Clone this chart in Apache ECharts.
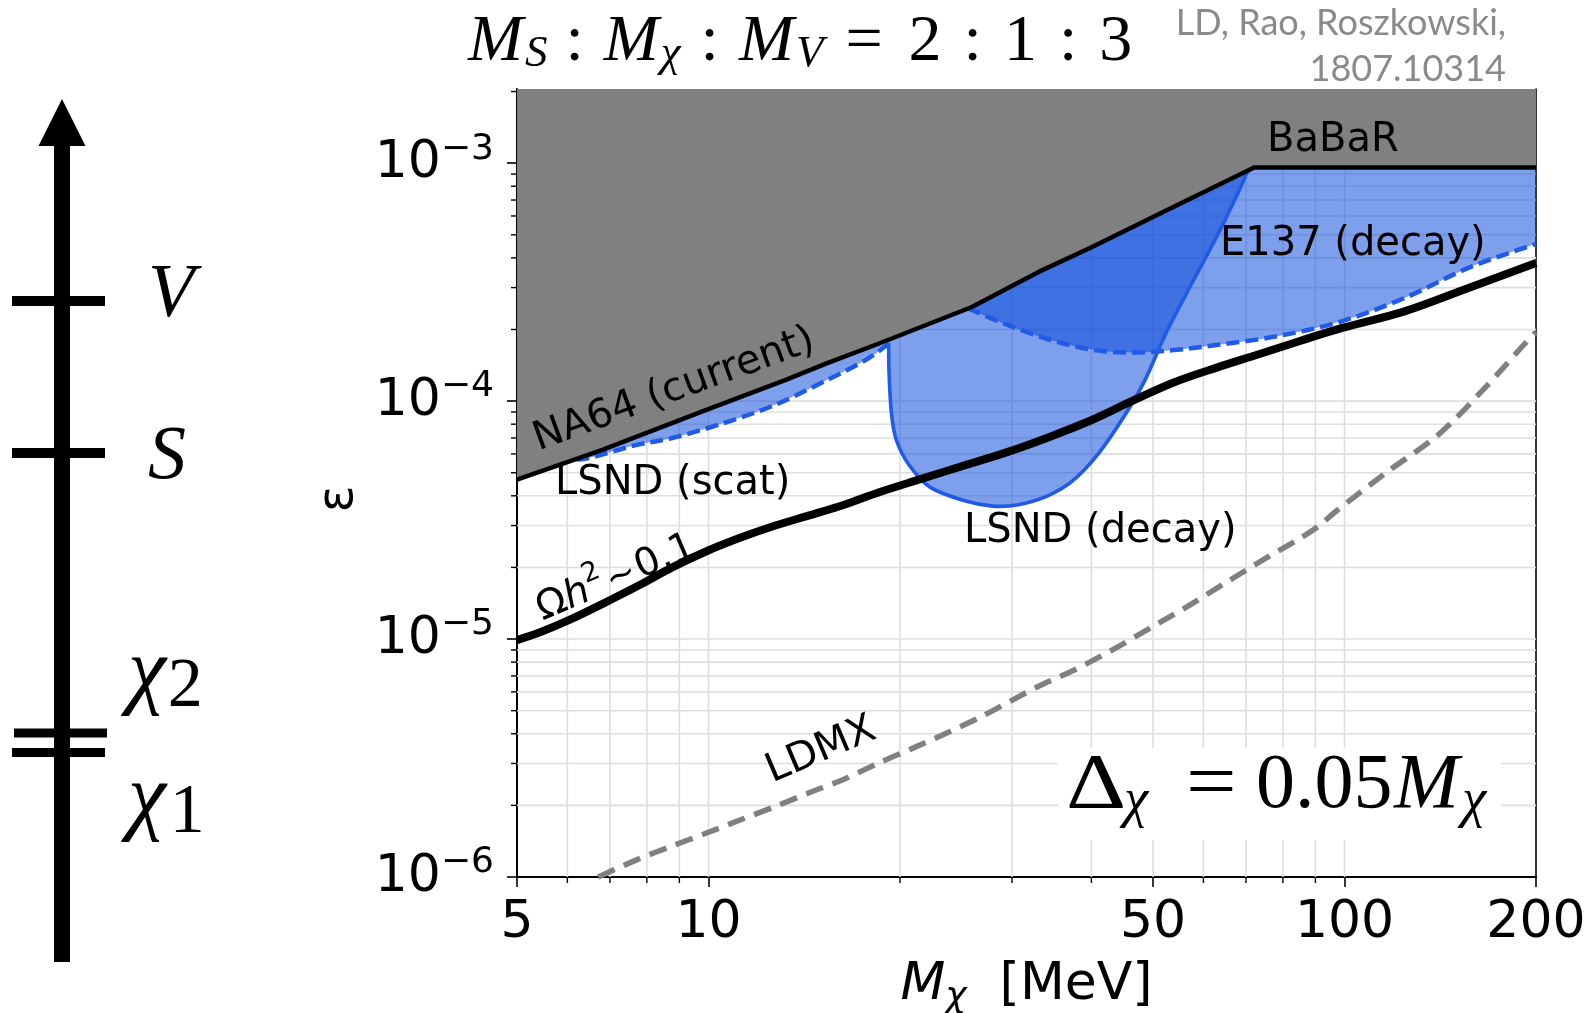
<!DOCTYPE html>
<html>
<head>
<meta charset="utf-8">
<script src="https://cdn.jsdelivr.net/npm/echarts@6/dist/echarts.min.js"></script>
<style>
  html, body { margin: 0; padding: 0; background: #ffffff; }
  #chart { width: 1588px; height: 1013px; }
</style>
</head>
<body>
<div id="chart"></div>
<script>
// ---- axis ranges and ticks ----
const X_MIN = 5, X_MAX = 200;
const Y_MIN = 1e-6, Y_MAX = 2.05e-3;
const X_TICKS = [5, 10, 50, 100, 200];
const Y_TICKS = [1e-6, 1e-5, 1e-4, 1e-3];
const X_MINOR = [6, 7, 8, 9, 20, 30, 40, 60, 70, 80, 90];
const Y_MINOR = [2e-6, 3e-6, 4e-6, 5e-6, 6e-6, 7e-6, 8e-6, 9e-6,
                 2e-5, 3e-5, 4e-5, 5e-5, 6e-5, 7e-5, 8e-5, 9e-5,
                 2e-4, 3e-4, 4e-4, 5e-4, 6e-4, 7e-4, 8e-4, 9e-4, 2e-3];
const X_GRID = [6, 7, 8, 9, 10, 20, 30, 40, 50, 60, 70, 80, 90, 100];
const Y_GRID = [1e-5, 1e-4, 1e-3].concat(Y_MINOR);

// ---- curves: [M_chi (MeV), epsilon] ----
const NA64_BABAR = [[5, 4.68e-5], [6.81, 6.24e-5], [8.74, 8.07e-5], [9.9, 9.17e-5], [13.2, 1.225e-4],
  [15.3, 1.437e-4], [18.5, 1.742e-4], [20.9, 1.98e-4], [25.9, 2.48e-4], [33.1, 3.5e-4],
  [39.8, 4.4e-4], [54, 6.58e-4], [72.1, 9.6e-4], [200, 9.6e-4]];
const LSND_SCAT = [[6.2, 5.7e-5], [6.48, 5.76e-5], [7.72, 6.55e-5], [8.74, 6.98e-5], [10.55, 8.07e-5],
  [12.7, 9.62e-5], [15.3, 1.22e-4], [17.6, 1.48e-4], [19.2, 1.74e-4]];
const LSND_DECAY = [[19.2, 1.76e-4], [19.23, 1.30e-4], [19.4, 8.82e-5], [19.75, 6.83e-5], [20.7, 5.36e-5],
  [22.3, 4.35e-5], [25.2, 3.82e-5], [28.0, 3.62e-5], [30.7, 3.67e-5], [34.2, 4.01e-5], [37.4, 4.63e-5],
  [41.0, 6.0e-5], [44.9, 8.53e-5], [48.5, 1.216e-4], [52.3, 1.91e-4], [57.4, 3.09e-4], [62.8, 4.85e-4],
  [67.8, 7.37e-4], [70.4, 9.23e-4], [71.2, 9.6e-4]];
const E137_DECAY = [[25.6, 2.45e-4], [29.4, 2.10e-4], [34.2, 1.82e-4], [39.8, 1.65e-4], [46.3, 1.60e-4],
  [54.0, 1.64e-4], [62.8, 1.72e-4], [78.9, 1.88e-4], [99.2, 2.17e-4], [124.6, 2.72e-4],
  [156.6, 3.63e-4], [200, 4.58e-4]];
const RELIC = [[5, 9.9e-6], [5.46, 1.073e-5], [6.03, 1.2e-5], [6.83, 1.41e-5], [7.74, 1.67e-5],
  [8.77, 2.0e-5], [9.93, 2.34e-5], [11.24, 2.67e-5], [12.74, 3.0e-5], [14.4, 3.31e-5],
  [16.3, 3.66e-5], [18.6, 4.15e-5], [21.6, 4.71e-5], [25.2, 5.36e-5], [29.4, 6.09e-5],
  [34.2, 7.04e-5], [39.8, 8.27e-5], [46.3, 1.0e-4], [54.0, 1.2e-4], [62.8, 1.38e-4],
  [73.1, 1.57e-4], [85.1, 1.79e-4], [99.2, 2.03e-4], [124.6, 2.39e-4], [156.6, 2.99e-4], [200, 3.81e-4]];
const LDMX = [[6.71, 1e-6], [7.74, 1.186e-6], [8.77, 1.35e-6], [9.93, 1.53e-6], [11.24, 1.74e-6],
  [12.74, 1.98e-6], [14.4, 2.26e-6], [16.3, 2.57e-6], [18.5, 3.01e-6], [20.96, 3.48e-6],
  [23.7, 4.03e-6], [26.9, 4.73e-6], [32.9, 6.3e-6], [37.6, 7.41e-6], [43.1, 8.99e-6],
  [49.4, 1.109e-5], [56.5, 1.366e-5], [64.7, 1.71e-5], [74.2, 2.14e-5], [84.9, 2.64e-5],
  [90.5, 2.95e-5], [97.3, 3.47e-5], [115.5, 4.94e-5], [140.8, 7.27e-5], [166.4, 1.14e-4],
  [193.8, 1.79e-4], [200, 1.95e-4]];

// ---- styles ----
const GRID_COLOR = '#dedede';
const BLUE_FILL = 'rgba(7,71,218,0.52)';
const BLUE_EDGE = '#1f5be6';
const GREY = '#808080';
const SANS = 'DejaVu Sans';
const SERIF = 'Liberation Serif';

// smooth SVG path (Catmull-Rom as cubic Bezier) through pixel points
function smoothPath(px) {
  let d = 'M' + px[0][0] + ' ' + px[0][1];
  for (let i = 0; i < px.length - 1; i++) {
    const p0 = px[Math.max(i - 1, 0)], p1 = px[i], p2 = px[i + 1], p3 = px[Math.min(i + 2, px.length - 1)];
    const c1 = [p1[0] + (p2[0] - p0[0]) / 6, p1[1] + (p2[1] - p0[1]) / 6];
    const c2 = [p2[0] - (p3[0] - p1[0]) / 6, p2[1] - (p3[1] - p1[1]) / 6];
    d += ' C' + c1[0] + ' ' + c1[1] + ' ' + c2[0] + ' ' + c2[1] + ' ' + p2[0] + ' ' + p2[1];
  }
  return d;
}

// filled band from a curve up to the top of the plot
function bandSeries(name, pts, fill, z) {
  return {
    type: 'custom', name: name, silent: true, z: z, animation: false,
    data: [pts[0]],
    renderItem: function (params, api) {
      const px = pts.map(function (p) { return api.coord(p); });
      const tr = api.coord([pts[pts.length - 1][0], Y_MAX]), tl = api.coord([pts[0][0], Y_MAX]);
      const d = smoothPath(px) + ' L' + tr[0] + ' ' + tr[1] + ' L' + tl[0] + ' ' + tl[1] + ' Z';
      return { type: 'path', shape: { pathData: d }, style: { fill: fill, stroke: null } };
    }
  };
}

// smooth edge of a band, solid or dashed
function edgeSeries(name, pts, color, width, dash, z) {
  return {
    type: 'custom', name: name, silent: true, z: z, animation: false,
    data: [pts[0]],
    renderItem: function (params, api) {
      const px = pts.map(function (p) { return api.coord(p); });
      return { type: 'path', shape: { pathData: smoothPath(px) },
               style: { fill: null, stroke: color, lineWidth: width, lineDash: dash || null, lineCap: 'butt', lineJoin: 'round' } };
    }
  };
}

function polygonSeries(name, pts, fill, z) {
  return {
    type: 'custom', name: name, silent: true, z: z, animation: false,
    data: [pts[0]],
    renderItem: function (params, api) {
      const px = pts.map(function (p) { return api.coord(p); });
      px.push(api.coord([pts[pts.length - 1][0], Y_MAX]), api.coord([pts[0][0], Y_MAX]));
      return { type: 'polygon', shape: { points: px }, style: { fill: fill } };
    }
  };
}

function lineSeries(name, pts, color, width, dash, z, smooth) {
  return {
    type: 'line', name: name, data: pts, silent: true, z: z, animation: false,
    symbol: 'none', showSymbol: false, smooth: smooth || false,
    lineStyle: { color: color, width: width, type: dash || 'solid', cap: 'butt', join: 'round' }
  };
}

function gridSeries(values, vertical) {
  return {
    type: 'custom', silent: true, z: 1, animation: false,
    data: values.map(function (v) { return vertical ? [v, Y_MIN] : [X_MIN, v]; }),
    renderItem: function (params, api) {
      let a, b;
      if (vertical) { const x = api.value(0); a = api.coord([x, Y_MIN]); b = api.coord([x, Y_MAX]); }
      else { const y = api.value(1); a = api.coord([X_MIN, y]); b = api.coord([X_MAX, y]); }
      return { type: 'line', shape: { x1: a[0], y1: a[1], x2: b[0], y2: b[1] },
               style: { stroke: GRID_COLOR, lineWidth: 1.6 } };
    }
  };
}

function minorTickSeries(values, vertical) {
  return {
    type: 'custom', silent: true, z: 6, animation: false, clip: false,
    data: values.map(function (v) { return vertical ? [v, Y_MIN] : [X_MIN, v]; }),
    renderItem: function (params, api) {
      const p = vertical ? api.coord([api.value(0), Y_MIN]) : api.coord([X_MIN, api.value(1)]);
      const shape = vertical ? { x1: p[0], y1: p[1], x2: p[0], y2: p[1] + 6 }
                             : { x1: p[0] - 6, y1: p[1], x2: p[0], y2: p[1] };
      return { type: 'line', shape: shape, style: { stroke: '#000', lineWidth: 1.4 } };
    }
  };
}

// lays out a formula from pieces sharing one baseline;
// a piece may carry its own left position (at) and horizontal stretch (sx)
const measureCtx = document.createElement('canvas').getContext('2d');
function mathPieces(pieces, x0, baseline) {
  let x = x0;
  const out = [];
  pieces.forEach(function (p) {
    const style = p.italic ? 'italic' : 'normal';
    measureCtx.font = style + ' normal ' + p.size + 'px "' + p.family + '"';
    const sx = p.sx || 1;
    const w = measureCtx.measureText(p.text).width * sx;
    if (p.at !== undefined) x = p.at;
    out.push({
      type: 'text', x: x, y: baseline + (p.dy || 0) - 0.3 * p.size, scaleX: sx, silent: true, z: 100,
      style: { text: p.text, fontSize: p.size, fontFamily: p.family, fontStyle: style,
               fill: p.color || '#000', align: 'left', verticalAlign: 'middle',
               textAlign: 'left', textVerticalAlign: 'middle' }
    });
    x += w + (p.gap || 0);
  });
  return out;
}

function label(text, x, y, deg, size) {
  return {
    type: 'group', x: x, y: y, rotation: (deg || 0) * Math.PI / 180, silent: true, z: 100,
    children: [{ type: 'text', x: 0, y: -0.3 * (size || 40), z: 100,
      style: { text: text, fontSize: size || 40, fontFamily: SANS, fill: '#000',
               align: 'left', verticalAlign: 'middle', textAlign: 'left', textVerticalAlign: 'middle' } }]
  };
}

const title = mathPieces([
  { text: 'M', size: 66, family: SERIF, italic: true, gap: 2 },
  { text: 'S', size: 45, family: SERIF, italic: true, dy: 6, gap: 18 },
  { text: ':', size: 66, family: SERIF, gap: 20 },
  { text: 'M', size: 66, family: SERIF, italic: true, gap: 2 },
  { text: 'χ', size: 45, family: SERIF, italic: true, dy: 6, gap: 20 },
  { text: ':', size: 66, family: SERIF, gap: 20 },
  { text: 'M', size: 66, family: SERIF, italic: true, gap: 2 },
  { text: 'V', size: 45, family: SERIF, italic: true, dy: 6, gap: 22 },
  { text: '=', size: 66, family: SERIF, gap: 26 },
  { text: '2', size: 66, family: SERIF, gap: 22 },
  { text: ':', size: 66, family: SERIF, gap: 22 },
  { text: '1', size: 66, family: SERIF, gap: 22 },
  { text: ':', size: 66, family: SERIF, gap: 22 },
  { text: '3', size: 66, family: SERIF }
], 468, 62);

const splitting = mathPieces([
  { text: 'Δ', size: 78, family: SERIF, at: 1066, sx: 1.2 },
  { text: 'χ', size: 55, family: SERIF, italic: true, dy: 8, at: 1124 },
  { text: '=', size: 78, family: SERIF, at: 1186, sx: 1.15 },
  { text: '0.05', size: 78, family: SERIF, at: 1256 },
  { text: 'M', size: 78, family: SERIF, italic: true, at: 1394 },
  { text: 'χ', size: 55, family: SERIF, italic: true, dy: 8, at: 1462 }
], 1066, 810);

const relicLabel = {
  type: 'group', x: 543, y: 622, rotation: 23 * Math.PI / 180, silent: true, z: 100,
  children: mathPieces([
    { text: 'Ω', size: 39, family: SANS },
    { text: 'h', size: 39, family: SANS, italic: true },
    { text: '2', size: 27, family: SANS, dy: -18, gap: 3 },
    { text: '∼', size: 36, family: SANS, gap: 2 },
    { text: '0.1', size: 39, family: SANS }
  ], 0, 0)
};

const levelLabels = [].concat(
  mathPieces([{ text: 'V', size: 76, family: SERIF, italic: true }], 148, 319),
  mathPieces([{ text: 'S', size: 76, family: SERIF, italic: true }], 148, 481),
  mathPieces([{ text: 'χ', size: 86, family: SERIF, italic: true, gap: 2 },
              { text: '2', size: 70, family: SERIF, dy: 9 }], 128, 700),
  mathPieces([{ text: 'χ', size: 86, family: SERIF, italic: true, gap: 4 },
              { text: '1', size: 70, family: SERIF, dy: 9 }], 128, 826)
);

const diagram = [
  { type: 'rect', shape: { x: 54, y: 140, width: 16, height: 822 }, style: { fill: '#000' }, silent: true, z: 100 },
  { type: 'polygon', shape: { points: [[62, 99], [38.5, 146], [85.5, 146]] }, style: { fill: '#000' }, silent: true, z: 100 },
  { type: 'rect', shape: { x: 12, y: 296, width: 93, height: 10 }, style: { fill: '#000' }, silent: true, z: 100 },
  { type: 'rect', shape: { x: 12, y: 448, width: 93, height: 10 }, style: { fill: '#000' }, silent: true, z: 100 },
  { type: 'rect', shape: { x: 14, y: 728.5, width: 93, height: 9 }, style: { fill: '#000' }, silent: true, z: 100 },
  { type: 'rect', shape: { x: 12, y: 748, width: 93, height: 9 }, style: { fill: '#000' }, silent: true, z: 100 }
];

const credit = [
  { type: 'text', x: 1506, y: 23, silent: true, z: 100,
    style: { text: 'LD, Rao, Roszkowski,', fontSize: 36, fontFamily: 'Lato', fill: '#8a8a8a',
             align: 'right', verticalAlign: 'middle', textAlign: 'right', textVerticalAlign: 'middle' } },
  { type: 'text', x: 1506, y: 69, silent: true, z: 100,
    style: { text: '1807.10314', fontSize: 36, fontFamily: 'Lato', fill: '#8a8a8a',
             align: 'right', verticalAlign: 'middle', textAlign: 'right', textVerticalAlign: 'middle' } }
];

const splittingBox = { type: 'rect', shape: { x: 1058, y: 748, width: 443, height: 92 },
                       style: { fill: '#ffffff' }, silent: true, z: 99 };

const chart = echarts.init(document.getElementById('chart'), null, { renderer: 'canvas' });

chart.setOption({
  animation: false,
  backgroundColor: '#ffffff',
  grid: { left: 517, right: 52, top: 89, bottom: 136, containLabel: false, outerBoundsMode: 'none' },
  xAxis: {
    type: 'log', logBase: 10, min: X_MIN, max: X_MAX,
    axisLine: { show: true, onZero: false, lineStyle: { color: '#000', width: 2 } },
    axisTick: { show: true, length: 10, customValues: X_TICKS, lineStyle: { color: '#000', width: 1.6 } },
    axisLabel: { customValues: X_TICKS, formatter: function (v) { return String(Math.round(v)); },
                 fontSize: 52, fontFamily: SANS, color: '#000', margin: 20 },
    splitLine: { show: false },
    name: '{m|M}{s|χ}{n|  [MeV]}', nameLocation: 'middle', nameGap: 77,
    nameTextStyle: { fontSize: 52, fontFamily: SANS, color: '#000',
      rich: { m: { fontSize: 52, fontFamily: SANS, fontStyle: 'italic', verticalAlign: 'middle' },
              s: { fontSize: 36, fontFamily: SANS, fontStyle: 'italic', padding: [26, 0, 0, 0], verticalAlign: 'middle' },
              n: { fontSize: 52, fontFamily: SANS, verticalAlign: 'middle' } } }
  },
  yAxis: [{
    type: 'log', logBase: 10, min: Y_MIN, max: Y_MAX,
    axisLine: { show: true, onZero: false, lineStyle: { color: '#000', width: 2 } },
    axisTick: { show: true, length: 10, customValues: Y_TICKS, lineStyle: { color: '#000', width: 1.6 } },
    axisLabel: {
      customValues: Y_TICKS, margin: 23, color: '#000',
      formatter: function (v) { return '{b|10}{sup|−' + (-Math.round(Math.log10(v))) + '}'; },
      rich: { b: { fontSize: 52, fontFamily: SANS, color: '#000', verticalAlign: 'middle' },
              sup: { fontSize: 36, fontFamily: SANS, color: '#000', padding: [0, 0, 28, 0], verticalAlign: 'middle' } }
    },
    splitLine: { show: false },
    name: 'ε', nameLocation: 'middle', nameRotate: 90, nameGap: 147,
    nameTextStyle: { fontSize: 50, fontFamily: SANS, color: '#000', padding: [0, 32, 0, 0] }
  }, {
    type: 'log', logBase: 10, min: Y_MIN, max: Y_MAX, position: 'right',
    axisLine: { show: true, onZero: false, lineStyle: { color: '#000', width: 1.6 } },
    axisTick: { show: false }, axisLabel: { show: false }, splitLine: { show: false }
  }],
  series: [
    gridSeries(X_GRID, true),
    gridSeries(Y_GRID, false),
    bandSeries('E137 (decay)', E137_DECAY, BLUE_FILL, 2),
    bandSeries('LSND (decay)', LSND_DECAY, BLUE_FILL, 2),
    bandSeries('LSND (scat)', LSND_SCAT, BLUE_FILL, 2),
    edgeSeries('E137 edge', E137_DECAY, BLUE_EDGE, 4.5, [13, 6], 3),
    edgeSeries('LSND scat edge', LSND_SCAT, BLUE_EDGE, 4.5, [13, 6], 3),
    edgeSeries('LSND decay edge', LSND_DECAY, BLUE_EDGE, 3.6, null, 3),
    polygonSeries('NA64 / BaBaR', NA64_BABAR, GREY, 4),
    lineSeries('NA64 / BaBaR edge', NA64_BABAR, '#000', 4.5, 'solid', 5, false),
    lineSeries('Relic density', RELIC, '#000', 8, 'solid', 5, 0.35),
    lineSeries('LDMX', LDMX, GREY, 5.5, [18, 10], 5, 0.3),
    minorTickSeries(X_MINOR, true),
    minorTickSeries(Y_MINOR, false)
  ],
  graphic: [].concat(
    diagram, levelLabels, title, credit,
    [label('NA64 (current)', 539, 452, 20),
     label('LSND (scat)', 555, 496, 0),
     label('LSND (decay)', 964, 544, 0),
     label('BaBaR', 1267, 153, 0),
     label('E137 (decay)', 1220, 257, 0),
     label('LDMX', 773, 784, 23),
     relicLabel,
     splittingBox],
    splitting
  )
});
</script>
</body>
</html>
